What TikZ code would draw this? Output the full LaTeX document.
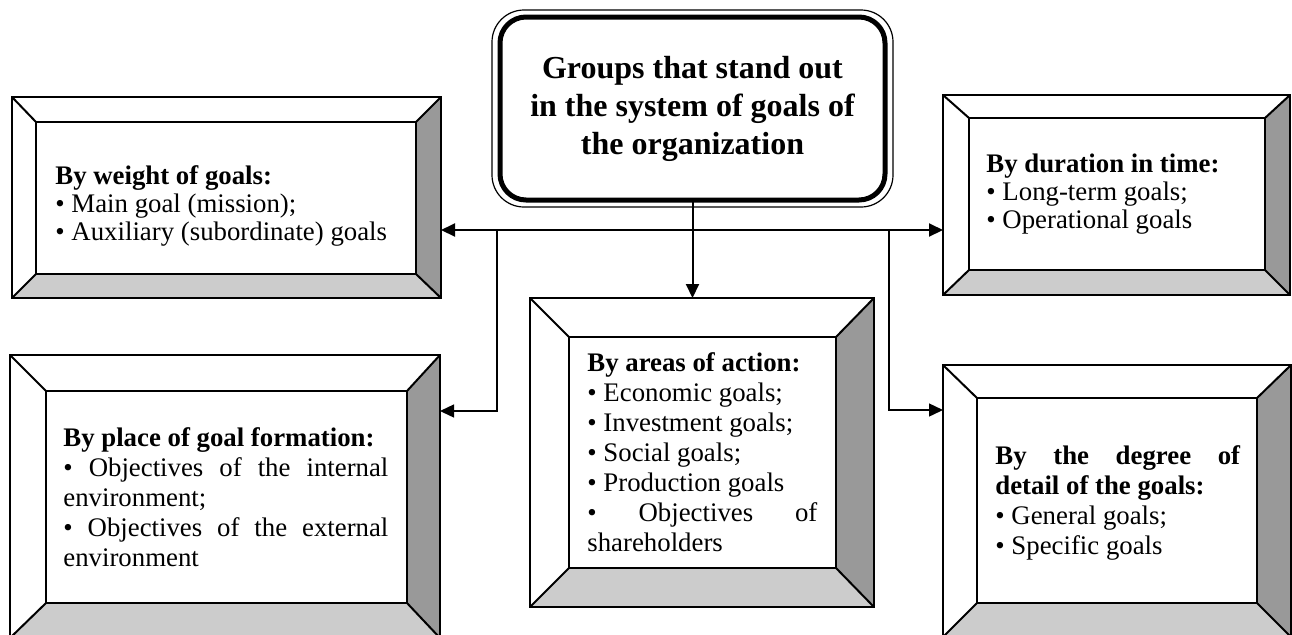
\documentclass[tikz,border=0pt]{standalone}
\usepackage{fontspec}
\setmainfont{Liberation Serif}
\usetikzlibrary{arrows.meta, positioning, calc}

\tikzset{
  boxframe/.style={draw, line width=1.2pt, fill=white, inner sep=0pt, outer sep=0pt},
  boxface/.style={draw, line width=1.2pt, fill=white, inner sep=0pt, outer sep=0pt},
  darkbevel/.style={fill=black!40},
  lightbevel/.style={fill=black!20},
  rim/.style={line width=1.2pt},
  seam/.style={line width=1pt},
  plainspace/.style={execute at begin node={\spaceskip=0pt \xspaceskip=0pt}},
  txt/.style={plainspace, inner sep=0pt, align=left, anchor=west, font=\fontsize{13.4}{14}\selectfont},
  txtlow/.style={txt, font=\fontsize{13.4}{15}\selectfont},
  titlebox/.style={draw, line width=2.5pt, rounded corners=13pt, inner sep=0pt, outer sep=0pt,
    minimum width=192.5pt, minimum height=91.5pt, align=center, text width=185pt,
    execute at begin node={\spaceskip=\fontdimen2\font\relax},
    font=\fontsize{16}{19}\selectfont\bfseries},
  arr/.style={-{Triangle[length=7pt,width=6.5pt]}, line width=1pt},
  twoway/.style={{Triangle[length=7pt,width=6.5pt]}-{Triangle[length=7pt,width=6.5pt]}, line width=1pt},
  branch/.style={arr, line width=0.7pt},
}

\begin{document}
\begin{tikzpicture}[x=0.5pt, y=-0.5pt]
  \useasboundingbox (0,0) rectangle (1292,634);
  \clip (0,0) rectangle (1292,634);

  % central title
  \node[titlebox] (ttl) at (692.5,108.5) {Groups that stand out\\in the system of goals of\\the organization};
  \draw[line width=0.6pt, rounded corners=16pt] ([shift={(-4pt,3.5pt)}]ttl.north west) rectangle ([shift={(4pt,-3.5pt)}]ttl.south east);

  % bevelled boxes: outer frame and inner face
  \node[boxframe, minimum width=214.5pt, minimum height=100.5pt] (wgt) at (226.5,197.5) {};
  \node[boxface, minimum width=190pt, minimum height=76pt] (wgt-in) at (226,198) {};
  \node[boxframe, minimum width=173.5pt, minimum height=100pt] (dur) at (1116.5,195) {};
  \node[boxface, minimum width=148pt, minimum height=76pt] (dur-in) at (1117,194) {};
  \node[boxframe, minimum width=172pt, minimum height=154.5pt] (area) at (702,452.5) {};
  \node[boxface, minimum width=133.5pt, minimum height=115.5pt] (area-in) at (702.5,452.5) {};
  \node[boxframe, minimum width=215pt, minimum height=141.5pt] (place) at (225,496.5) {};
  \node[boxface, minimum width=180.5pt, minimum height=106pt] (place-in) at (226.5,497) {};
  \node[boxframe, minimum width=174pt, minimum height=136pt] (det) at (1117,501) {};
  \node[boxface, minimum width=140pt, minimum height=102.5pt] (det-in) at (1117,500.5) {};

  \foreach \b in {wgt,dur,area,place,det}{
    \fill[darkbevel] (\b.north east) -- (\b-in.north east) -- (\b-in.south east) -- (\b.south east) -- cycle;
    \fill[lightbevel] (\b.south west) -- (\b-in.south west) -- (\b-in.south east) -- (\b.south east) -- cycle;
    \draw[rim] (\b.north west) rectangle (\b.south east);
    \draw[rim] (\b-in.north west) rectangle (\b-in.south east);
    \draw[seam] (\b.north west) -- (\b-in.north west) (\b.north east) -- (\b-in.north east)
      (\b.south west) -- (\b-in.south west) (\b.south east) -- (\b-in.south east);
  }

  % box texts
  \node[txt, text width=172pt] (wgt-txt) at ([xshift=9.5pt, yshift=-3.75pt]wgt-in.west)
    {\textbf{By weight of goals:}\\• Main goal (mission);\\• Auxiliary (subordinate) goals};
  \node[txt, text width=135pt] (dur-txt) at ([xshift=8.5pt]dur-in.west)
    {\textbf{By duration in time:}\\• Long-term goals;\\• Operational goals};
  \node[txtlow, text width=115pt] (area-txt) at ([xshift=9pt]area-in.west)
    {\textbf{By areas of action:}\\• Economic goals;\\• Investment goals;\\• Social goals;\\• Production goals\\\makebox[\hsize][s]{• Objectives of}\\shareholders};
  \node[txtlow, text width=162.5pt] (place-txt) at ([xshift=8.5pt]place-in.west)
    {\textbf{By place of goal formation:}\\\makebox[\hsize][s]{• Objectives of the internal}\\environment;\\\makebox[\hsize][s]{• Objectives of the external}\\environment};
  \node[txtlow, text width=122.5pt] (det-txt) at ([xshift=9pt, yshift=-1pt]det-in.west)
    {\makebox[\hsize][s]{\textbf{By the degree of}}\\\textbf{detail of the goals:}\\• General goals;\\• Specific goals};

  % connectors
  \coordinate (hub) at (693,230);
  \coordinate (lfork) at (497,230);
  \coordinate (rfork) at (889,230);
  \coordinate (ldrop) at (497,411);
  \coordinate (rdrop) at (889,410);
  \draw[arr] (ttl.south) -- (ttl.south |- area.north);
  \draw[twoway] (hub -| wgt.east) -- (hub -| dur.west);
  \draw[branch] (lfork) -- (ldrop) -- (ldrop -| place.east);
  \draw[branch] (rfork) -- (rdrop) -- (rdrop -| det.west);
\end{tikzpicture}
\end{document}
